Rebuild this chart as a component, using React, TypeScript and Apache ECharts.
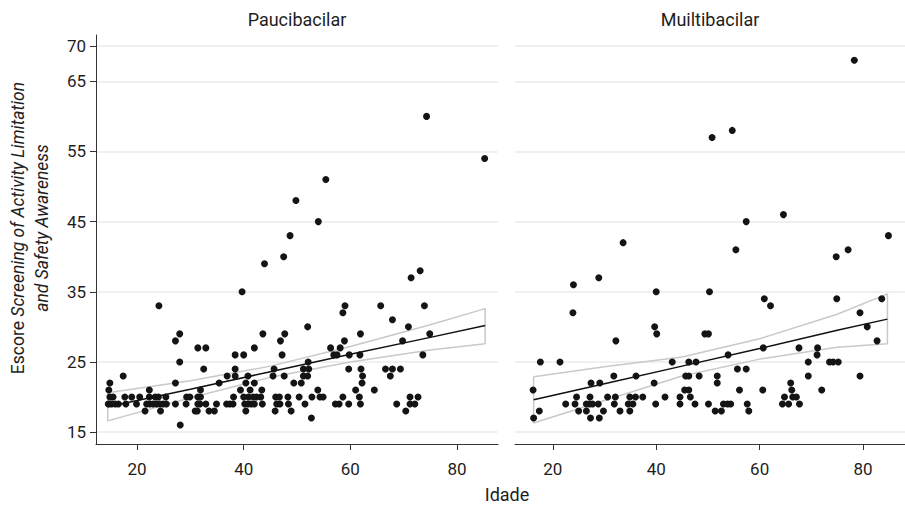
import React, { useEffect, useRef } from "react";
import * as echarts from "echarts";

const yTicks = [15, 25, 35, 45, 55, 65, 70];
const xTicks = [20, 40, 60, 80];
const panelTitles = ["Paucibacilar", "Muiltibacilar"];
const xName = "Idade";

// Paucibacilar: [idade, escore]
const pauciPoints: number[][] = [
  [74.3, 60], [85.2, 54], [55.4, 51], [49.8, 48], [54.0, 45], [48.7, 43], [47.5, 40], [43.9, 39], [39.7, 35], [71.4, 37], [73.1, 38],
  [24.1, 33], [59.0, 33], [65.7, 33], [73.9, 33], [58.6, 32], [67.9, 31], [52.0, 30], [70.9, 30],
  [28.0, 29], [43.6, 29], [47.7, 29], [61.9, 29], [74.9, 29],
  [27.2, 28], [46.9, 28], [58.9, 28], [69.8, 28],
  [31.4, 27], [32.9, 27], [42.0, 27], [56.3, 27], [58.1, 27],
  [38.4, 26], [40.0, 26], [47.2, 26], [56.9, 26], [57.5, 26], [59.8, 26], [61.8, 26], [73.6, 26],
  [28.0, 25], [52.1, 25],
  [32.5, 24], [38.4, 24], [45.7, 24], [51.2, 24], [52.2, 24], [59.7, 24], [62.0, 24], [66.6, 24], [67.9, 24], [69.4, 24],
  [17.4, 23], [36.9, 23], [38.4, 23], [40.8, 23], [45.5, 23], [47.6, 23], [51.2, 23], [52.0, 23], [62.3, 23], [67.5, 23],
  [14.9, 22], [27.2, 22], [35.4, 22], [40.4, 22], [42.0, 22], [49.4, 22], [50.8, 22], [62.2, 22],
  [14.7, 21], [22.3, 21], [31.9, 21], [39.4, 21], [41.2, 21], [43.4, 21], [53.9, 21], [61.0, 21], [64.5, 21],
  [14.9, 20], [15.5, 20], [17.7, 20], [19.0, 20], [20.5, 20], [22.3, 20], [23.4, 20], [24.0, 20], [25.4, 20], [29.3, 20],
  [29.9, 20], [31.4, 20], [31.9, 20], [38.1, 20], [40.0, 20], [40.9, 20], [41.8, 20], [42.4, 20], [43.2, 20], [46.0, 20],
  [46.7, 20], [48.3, 20], [50.4, 20], [52.8, 20], [54.3, 20], [54.9, 20], [58.6, 20], [61.7, 20], [71.2, 20], [72.7, 20],
  [14.6, 19], [15.2, 19], [15.9, 19], [16.5, 19], [17.9, 19], [19.9, 19], [21.8, 19], [22.4, 19], [23.0, 19], [23.7, 19],
  [24.3, 19], [24.9, 19], [25.5, 19], [27.2, 19], [29.2, 19], [31.4, 19], [31.8, 19], [32.9, 19], [34.9, 19], [36.8, 19],
  [37.4, 19], [38.0, 19], [40.2, 19], [40.8, 19], [41.4, 19], [42.0, 19], [43.5, 19], [46.2, 19], [46.8, 19], [48.4, 19],
  [51.5, 19], [57.2, 19], [57.9, 19], [59.7, 19], [61.9, 19], [68.7, 19], [71.2, 19], [72.1, 19],
  [21.5, 18], [24.4, 18], [30.9, 18], [31.3, 18], [33.5, 18], [34.5, 18], [40.4, 18], [45.9, 18], [48.9, 18], [70.4, 18],
  [52.7, 17], [28.1, 16],
];

// Multibacilar: [idade, escore]
const multiPoints: number[][] = [
  [78.3, 68], [50.8, 57], [54.7, 58], [57.4, 45], [64.6, 46], [84.9, 43], [33.6, 42], [55.4, 41], [77.1, 41], [74.8, 40],
  [28.9, 37], [24.0, 36], [40.0, 35], [50.3, 35], [60.9, 34], [74.9, 34], [83.6, 34], [62.1, 33], [23.9, 32], [79.4, 32],
  [39.7, 30], [80.8, 30], [40.1, 29], [49.4, 29], [50.1, 29], [32.2, 28], [82.7, 28], [60.7, 27], [67.6, 27], [71.2, 27],
  [53.9, 26], [71.1, 26],
  [17.6, 25], [21.4, 25], [43.1, 25], [46.3, 25], [47.7, 25], [69.4, 25], [73.5, 25], [74.2, 25], [75.2, 25],
  [55.7, 24], [57.4, 24],
  [31.8, 23], [36.1, 23], [45.7, 23], [46.3, 23], [48.3, 23], [51.8, 23], [69.4, 23], [79.4, 23],
  [27.4, 22], [29.1, 22], [39.6, 22], [51.8, 22], [66.0, 22],
  [16.2, 21], [45.5, 21], [46.3, 21], [56.1, 21], [60.6, 21], [66.2, 21], [72.0, 21],
  [24.6, 20], [27.2, 20], [30.6, 20], [32.1, 20], [34.9, 20], [36.0, 20], [37.4, 20], [41.7, 20], [44.6, 20], [46.6, 20],
  [64.8, 20], [66.4, 20], [67.1, 20],
  [22.5, 19], [24.3, 19], [26.5, 19], [27.1, 19], [27.7, 19], [28.8, 19], [31.9, 19], [34.6, 19], [35.5, 19], [39.9, 19],
  [44.6, 19], [47.5, 19], [50.1, 19], [53.0, 19], [53.8, 19], [54.4, 19], [57.6, 19], [64.4, 19], [65.6, 19], [67.7, 19],
  [17.4, 18], [25.0, 18], [26.5, 18], [29.8, 18], [33.0, 18], [34.9, 18], [51.4, 18], [52.6, 18], [57.9, 18],
  [16.3, 17], [27.3, 17], [29.0, 17],
];

// Fitted line and 95% confidence band
const pauciFitAge = [14.5, 30, 45, 60, 75, 85.3];
const pauciFit = [18.6, 21.1, 23.6, 26.1, 28.5, 30.2];
const pauciUpper = [20.6, 22.3, 24.4, 27.2, 30.3, 32.6];
const pauciLower = [16.6, 19.9, 22.8, 25.0, 26.7, 27.6];

const multiFitAge = [16.3, 30, 45, 60, 75, 84.7];
const multiFit = [19.6, 21.9, 24.4, 26.9, 29.5, 31.1];
const multiUpper = [22.9, 24.3, 25.7, 28.3, 31.8, 34.7];
const multiLower = [16.3, 19.5, 23.0, 25.4, 27.1, 27.6];

const FONT = "Roboto";
const TXT = "#1e1e1e";

function bandPolygon(xs: number[], up: number[], lo: number[]) {
  const pts: number[][] = xs.map((x, i) => [x, up[i]]);
  for (let i = xs.length - 1; i >= 0; i--) pts.push([xs[i], lo[i]]);
  pts.push([xs[0], up[0]]);
  return pts;
}

export default function App() {
  const ref = useRef<HTMLDivElement>(null);
  useEffect(() => {
    if (!ref.current) return;
    const chart = echarts.init(ref.current, null, { renderer: "svg" });
    const yAxisBase = (gi: number, showLabels: boolean) => ({
      type: "value",
      gridIndex: gi,
      min: 13.3,
      max: 71.6,
      axisLine: { show: showLabels, lineStyle: { color: "#333", width: 1 } },
      axisTick: { show: showLabels, length: 6, customValues: yTicks, lineStyle: { color: "#333" } },
      axisLabel: {
        show: showLabels,
        customValues: yTicks,
        margin: 10,
        color: TXT,
        fontFamily: FONT,
        fontSize: 17,
      },
      splitLine: { show: true, lineStyle: { color: "#ebebeb", width: 1.5 } },
    });
    const xAxisBase = (gi: number, min: number, max: number) => ({
      type: "value",
      gridIndex: gi,
      min,
      max,
      axisLine: { show: true, lineStyle: { color: "#333", width: 1 } },
      axisTick: { show: true, length: 6, customValues: xTicks, lineStyle: { color: "#333" } },
      axisLabel: { customValues: xTicks, margin: 16, color: TXT, fontFamily: FONT, fontSize: 17 },
      splitLine: { show: false },
    });
    const scatter = (i: number, data: number[][]) => ({
      type: "scatter",
      xAxisIndex: i,
      yAxisIndex: i,
      data,
      symbol: "circle",
      symbolSize: 7,
      itemStyle: { color: "#141414", opacity: 1 },
      silent: true,
      z: 3,
    });
    const band = (i: number, data: number[][]) => ({
      type: "line",
      xAxisIndex: i,
      yAxisIndex: i,
      data,
      showSymbol: false,
      symbol: "none",
      lineStyle: { color: "#c9c9c9", width: 1.5 },
      silent: true,
      z: 2,
    });
    const fit = (i: number, xs: number[], ys: number[]) => ({
      type: "line",
      xAxisIndex: i,
      yAxisIndex: i,
      data: xs.map((x, k) => [x, ys[k]]),
      showSymbol: false,
      symbol: "none",
      lineStyle: { color: "#111", width: 1.5 },
      silent: true,
      z: 4,
    });
    chart.setOption({
      animation: false,
      backgroundColor: "#fff",
      grid: [
        { left: 96, top: 35, width: 402, height: 409 },
        { left: 515, top: 35, width: 402, height: 409 },
      ],
      xAxis: [xAxisBase(0, 12.3, 87.7), xAxisBase(1, 12.7, 88.1)],
      yAxis: [yAxisBase(0, true), yAxisBase(1, false)],
      series: [
        band(0, bandPolygon(pauciFitAge, pauciUpper, pauciLower)),
        scatter(0, pauciPoints),
        fit(0, pauciFitAge, pauciFit),
        band(1, bandPolygon(multiFitAge, multiUpper, multiLower)),
        scatter(1, multiPoints),
        fit(1, multiFitAge, multiFit),
      ],
      graphic: [
        {
          type: "text",
          x: 297,
          y: 19,
          style: { text: panelTitles[0], font: `18px ${FONT}`, fill: TXT, align: "center", verticalAlign: "middle" },
        },
        {
          type: "text",
          x: 710,
          y: 19,
          style: { text: panelTitles[1], font: `18px ${FONT}`, fill: TXT, align: "center", verticalAlign: "middle" },
        },
        {
          type: "text",
          x: 507,
          y: 494,
          style: { text: xName, font: `18px ${FONT}`, fill: TXT, align: "center", verticalAlign: "middle" },
        },
        {
          type: "text",
          x: 30,
          y: 228,
          rotation: Math.PI / 2,
          style: {
            text: "{n|Escore }{i|Screening of Activity Limitation}\n{i|and Safety Awareness}",
            align: "center",
            verticalAlign: "middle",
            fill: TXT,
            rich: {
              n: { fontFamily: FONT, fontSize: 17.5, fill: TXT, lineHeight: 24 },
              i: { fontFamily: FONT, fontSize: 17.5, fontStyle: "italic", fill: TXT, lineHeight: 24 },
            },
          },
        },
      ],
    });
    return () => chart.dispose();
  }, []);
  return (
    <div
      ref={ref}
      style={{ position: "fixed", left: 0, top: 0, width: 905, height: 508, overflow: "hidden", background: "#fff" }}
    />
  );
}
